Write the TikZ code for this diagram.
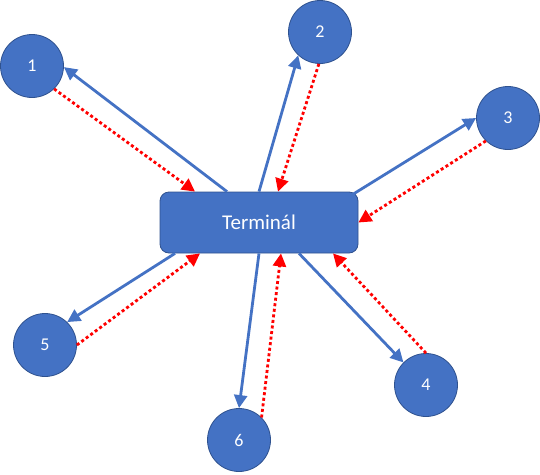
\documentclass[tikz,border=0pt]{standalone}
\usepackage{fontspec}
\setmainfont{Carlito}
\usetikzlibrary{arrows.meta}
\definecolor{nodeblue}{HTML}{4472C4}
\definecolor{edgeblue}{HTML}{2F528F}
\begin{document}
\begin{tikzpicture}[x=1pt,y=-1pt,
  station/.style={circle,draw=edgeblue,line width=0.8pt,fill=nodeblue,minimum size=63pt,inner sep=0pt,text=white,font=\fontsize{18}{20}\selectfont},
  outlink/.style={-{Triangle[length=13pt,width=13pt]},line width=2.8pt,nodeblue},
  inlink/.style={-{Triangle[length=13pt,width=13pt]},line width=2.8pt,red,dash pattern=on 3pt off 2.6pt}]
  \useasboundingbox (0,0) rectangle (540,474);
  \node[draw=edgeblue,line width=0.8pt,fill=nodeblue,rounded corners=9pt,minimum width=198pt,minimum height=61pt,text=white,font=\fontsize{21}{24}\selectfont] (term) at (259,222.5) {Terminál};
  \node[station] (n1) at (32,66) {1};
  \node[station] (n2) at (320,32) {2};
  \node[station] (n3) at (508,118) {3};
  \node[station] (n4) at (426,385) {4};
  \node[station] (n5) at (45,345) {5};
  \node[station] (n6) at (239,440) {6};
  % terminal -> stations
  \draw[outlink] ([xshift=-32pt]term.north) -- (n1.-2);
  \draw[outlink] (term.north) -- (n2.227);
  \draw[outlink] ([xshift=-6pt,yshift=-3pt]term.north east) -- (n3.180);
  \draw[outlink] ([xshift=40pt]term.south) -- (n4.135);
  \draw[outlink] ([xshift=-84pt]term.south) -- (n5.46);
  \draw[outlink] (term.south) -- (n6.90);
  % stations -> terminal
  \draw[inlink] (n1.-46) -- ([xshift=-64pt]term.north);
  \draw[inlink] (n2.268) -- ([xshift=19pt]term.north);
  \draw[inlink] (n3.226) -- (term.east);
  \draw[inlink] (n4.90) -- ([xshift=74pt]term.south);
  \draw[inlink] (n5.0) -- ([xshift=-59pt]term.south);
  \draw[inlink] (n6.45) -- ([xshift=22pt]term.south);
\end{tikzpicture}
\end{document}
